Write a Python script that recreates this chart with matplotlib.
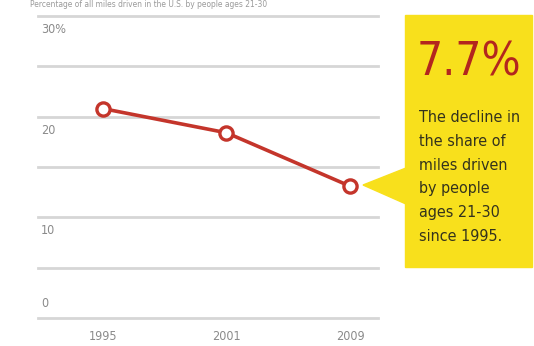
import matplotlib
matplotlib.use("Agg")
import matplotlib.pyplot as plt
from matplotlib.patches import Rectangle, Polygon

years = ["1995", "2001", "2009"]
share = [20.8, 18.4, 13.1]
grid_vals = [0, 5, 10, 15, 20, 25, 30]
ytick_vals = [30, 20, 10, 0]
ytick_labels = ["30%", "20", "10", "0"]
headline = "7.7%"
note_lines = ["The decline in", "the share of", "miles driven", "by people",
              "ages 21-30", "since 1995."]
title = "Percentage of all miles driven in the U.S. by people ages 21-30"

# condensed face of DejaVu Sans
cond = dict(family="DejaVu Sans", stretch="condensed")

W, H = 534, 346
fig = plt.figure(figsize=(W / 100, H / 100), dpi=100)

def fx(px):
    return px / W

def fy(py):
    return 1 - py / H

ax = fig.add_axes([fx(38), fy(318), fx(378) - fx(38), fy(16) - fy(318)])
x = list(range(len(years)))
ax.set_xlim(-0.526, 2.227)
ax.set_ylim(0, 30)
ax.axis("off")

for v in grid_vals:
    ax.axhline(v, color="#d6d6d6", lw=2, zorder=1, clip_on=False)

for v, lab in zip(ytick_vals, ytick_labels):
    if v == 0:
        ax.text(-0.5, v + 0.8, lab, ha="left", va="bottom", color="#8a8a8a",
                fontsize=9, **cond)
    else:
        ax.text(-0.5, v - 0.7, lab, ha="left", va="top", color="#8a8a8a",
                fontsize=9, **cond)

ax.plot(x, share, color="#c4352b", lw=2.6, marker="o", ms=9.5,
        mfc="white", mec="#c4352b", mew=2.4, zorder=3, clip_on=False)

for xi, lab in zip(x, years):
    ax.text(xi, -1.2, lab, ha="center", va="top", color="#8a8a8a",
            fontsize=9, clip_on=False, **cond)

# yellow call-out
fig.patches.append(Rectangle((fx(405), fy(267)), fx(532) - fx(405), fy(15) - fy(267),
                             transform=fig.transFigure, color="#f8e01c", zorder=0))
fig.patches.append(Polygon([(fx(363), fy(185)), (fx(406), fy(168)), (fx(406), fy(204))],
                           closed=True, transform=fig.transFigure, color="#f8e01c", zorder=0))

fig.text(fx(417), fy(75), headline, ha="left", va="baseline", color="#b3261e",
         fontsize=33, **cond)
fig.text(fx(419), fy(110), "\n".join(note_lines), ha="left", va="top", color="#34331c",
         fontsize=11.5, linespacing=1.73, **cond)

fig.text(fx(30), fy(0), title, ha="left", va="top", color="#9a9a9a",
         fontsize=6, **cond)

fig.savefig("out.png", dpi=100)
